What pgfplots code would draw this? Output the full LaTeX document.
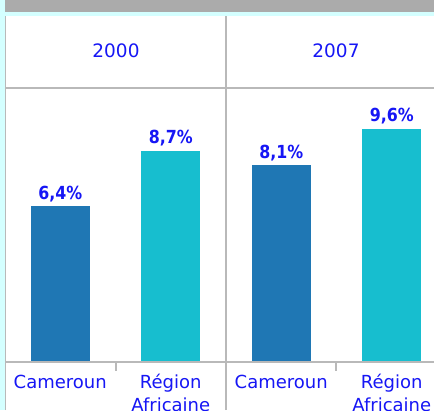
\documentclass[border=0pt]{standalone}
\usepackage{fontspec}
\setmainfont{DejaVu Sans}
\newfontfamily\lblfont[FakeStretch=0.88,UprightFont=* Bold]{DejaVu Sans}
\usepackage{pgfplots}
\pgfplotsset{compat=1.18}
\definecolor{bgcyan}{RGB}{212,255,255}
\definecolor{topgray}{RGB}{171,171,171}
\definecolor{gridgray}{RGB}{185,185,185}
\definecolor{txtblue}{RGB}{22,22,245}
\definecolor{barblue}{RGB}{31,119,180}
\definecolor{barcyan}{RGB}{23,190,207}
\pgfplotsset{panel/.style={
  anchor=south west, scale only axis, width=221pt, height=274pt,
  xmin=-0.5, xmax=1.5, ymin=0, ymax=11.276,
  ybar, clip=false,
  axis line style={draw=none},
  ytick=\empty,
  xtick={0,1}, major tick length=0pt,
  /pgf/number format/assume math mode=true,
  xticklabels={{\strut Cameroun},{\strut Région\\Africaine}},
  xticklabel style={align=center, inner sep=0pt, anchor=north, yshift=-10pt,
    font=\fontsize{18}{23}\selectfont, text=txtblue},
  nodes near coords={\pgfmathprintnumber[fixed,fixed zerofill,precision=1,use comma]{\pgfplotspointmeta}\%},
  nodes near coords style={anchor=base, inner sep=0pt, yshift=7pt,
    font=\lblfont\fontsize{18}{18}\selectfont, text=txtblue},
}}
\begin{document}
\begin{tikzpicture}[x=1pt,y=1pt]
\useasboundingbox (0,0) rectangle (434,410);
\clip (0,0) rectangle (434,410);
\fill[bgcyan] (0,0) rectangle (434,410);
\fill[topgray] (5,398) rectangle (434,410);
\fill[white] (6,0) rectangle (434,394);
% panel 2000
\begin{axis}[panel, at={(5pt,48pt)}]
\addplot[fill=barblue, draw=none, bar width=59pt, bar shift=0pt] coordinates {(0,6.4)};
\addplot[fill=barcyan, draw=none, bar width=59pt, bar shift=0pt] coordinates {(1,8.7)};
\end{axis}
% panel 2007
\begin{axis}[panel, at={(226pt,48pt)}]
\addplot[fill=barblue, draw=none, bar width=59pt, bar shift=0pt] coordinates {(0,8.1)};
\addplot[fill=barcyan, draw=none, bar width=59pt, bar shift=0pt] coordinates {(1,9.6)};
\end{axis}
% table lines
\draw[gridgray, line width=1.5pt] (5.5,0) -- (5.5,394);
\draw[gridgray, line width=1.5pt] (226,0) -- (226,394);
\draw[gridgray, line width=1.5pt] (5,322) -- (434,322);
\draw[gridgray, line width=1.5pt] (5,48) -- (434,48);
\draw[gridgray, line width=1.5pt] (116,47) -- (116,39);
\draw[gridgray, line width=1.5pt] (336,47) -- (336,39);
\node[text=txtblue, font=\fontsize{18.5}{23}\selectfont] at (116,359.5) {2000};
\node[text=txtblue, font=\fontsize{18.5}{23}\selectfont] at (336,359.5) {2007};
\end{tikzpicture}
\end{document}
